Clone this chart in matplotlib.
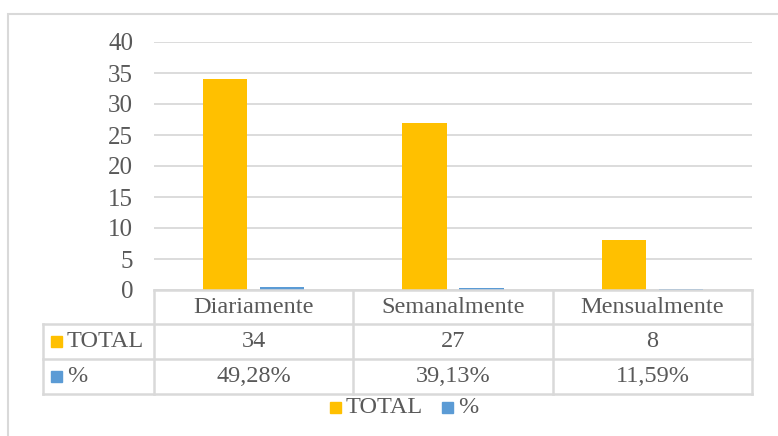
import numpy as np
import matplotlib.pyplot as plt
from matplotlib.patches import Rectangle

categories = ['Diariamente', 'Semanalmente', 'Mensualmente']
total = [34, 27, 8]
pct = [0.4928, 0.3913, 0.1159]
pct_labels = ['49,28%', '39,13%', '11,59%']
series_names = ['TOTAL', '%']

orange = '#FFC000'
blue = '#5B9BD5'
grid_c = '#D9D9D9'
text_c = '#595959'
fs = 17.5

plt.rcParams['font.family'] = ['Liberation Serif', 'DejaVu Serif']

W, H = 778, 436
fig = plt.figure(figsize=(W / 100, H / 100), dpi=100)

def fx(px):
  return px / W

def fy(py):
  return 1 - py / H

# outer chart border
fig.patches.append(Rectangle((fx(8), fy(445)), fx(780) - fx(8), fy(14) - fy(445),
                             transform=fig.transFigure, fill=False,
                             edgecolor=grid_c, lw=1.5))

# plot area
left, right, top, bottom = 154, 752, 42, 290
ax = fig.add_axes([fx(left), fy(bottom), fx(right) - fx(left), fy(top) - fy(bottom)])
x = np.arange(len(categories))
bw = 0.222
off = 0.143
ax.bar(x - off, total, bw, color=orange, zorder=3)
ax.bar(x + off, pct, bw, color=blue, zorder=3)
ax.set_xlim(-0.5, len(categories) - 0.5)
ax.set_ylim(0, 40)
ax.set_yticks(range(0, 41, 5))
ax.yaxis.grid(True, color=grid_c, lw=1.3, zorder=0)
ax.set_xticks([])
for s in ax.spines.values():
  s.set_visible(False)
ax.tick_params(axis='y', length=0, pad=15, labelsize=18, labelcolor=text_c)

# data table
col_edges = [154, 353, 553, 752]
row_edges = [290, 324, 359, 394]
lab_left = 43
tkw = dict(transform=fig.transFigure, color=grid_c, lw=1.8)
fig.add_artist(plt.Line2D([fx(col_edges[0]), fx(col_edges[-1])], [fy(row_edges[0])] * 2, **tkw))
for ry in row_edges[1:]:
  fig.add_artist(plt.Line2D([fx(lab_left), fx(col_edges[-1])], [fy(ry)] * 2, **tkw))
for cx in col_edges:
  fig.add_artist(plt.Line2D([fx(cx)] * 2, [fy(row_edges[0]), fy(row_edges[-1])], **tkw))
fig.add_artist(plt.Line2D([fx(lab_left)] * 2, [fy(row_edges[1]), fy(row_edges[-1])], **tkw))

rows = [categories, [str(v) for v in total], pct_labels]
for r, row in enumerate(rows):
  yc = (row_edges[r] + row_edges[r + 1]) / 2
  for c, txt in enumerate(row):
    xc = (col_edges[c] + col_edges[c + 1]) / 2
    fig.text(fx(xc), fy(yc), txt, ha='center', va='center', fontsize=fs, color=text_c)

for i, (name, col) in enumerate(zip(series_names, [orange, blue])):
  yc = (row_edges[i + 1] + row_edges[i + 2]) / 2
  fig.patches.append(Rectangle((fx(51), fy(yc + 5.5)), fx(11), fy(0) - fy(11),
                               transform=fig.transFigure, color=col))
  fig.text(fx(67), fy(yc), name, ha='left', va='center', fontsize=fs, color=text_c)

# legend
leg = [(330, series_names[0], orange), (442, series_names[1], blue)]
for lx, name, col in leg:
  fig.patches.append(Rectangle((fx(lx), fy(413)), fx(11), fy(0) - fy(11),
                               transform=fig.transFigure, color=col))
  fig.text(fx(lx + 16), fy(407.5), name, ha='left', va='center', fontsize=fs, color=text_c)

fig.savefig('out.png', dpi=100)
